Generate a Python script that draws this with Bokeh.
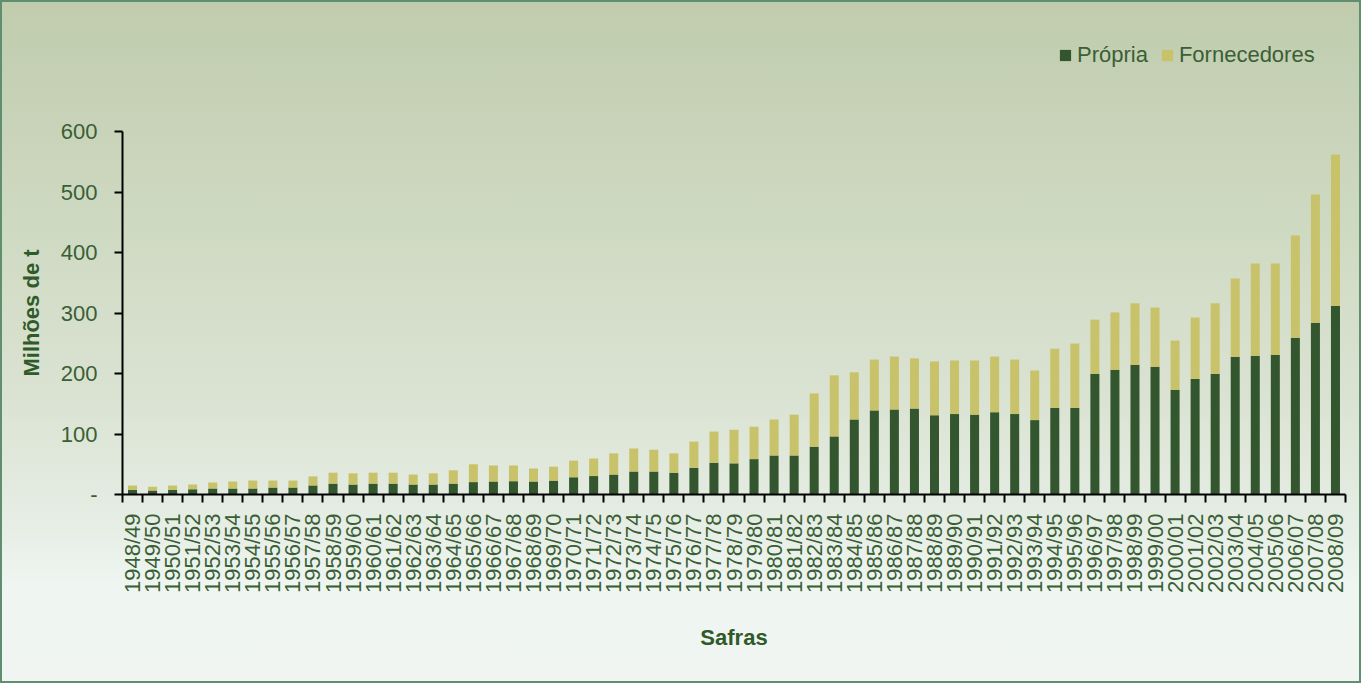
import numpy as np
from bokeh.plotting import figure
from bokeh.models import Range1d, FixedTicker, Legend, LegendItem, ColumnDataSource, Label
from bokeh.embed import file_html
from bokeh.resources import INLINE

categories = ["1948/49", "1949/50", "1950/51", "1951/52", "1952/53", "1953/54", "1954/55",
              "1955/56", "1956/57", "1957/58", "1958/59", "1959/60", "1960/61", "1961/62",
              "1962/63", "1963/64", "1964/65", "1965/66", "1966/67", "1967/68", "1968/69",
              "1969/70", "1970/71", "1971/72", "1972/73", "1973/74", "1974/75", "1975/76",
              "1976/77", "1977/78", "1978/79", "1979/80", "1980/81", "1981/82", "1982/83",
              "1983/84", "1984/85", "1985/86", "1986/87", "1987/88", "1988/89", "1989/90",
              "1990/91", "1991/92", "1992/93", "1993/94", "1994/95", "1995/96", "1996/97",
              "1997/98", "1998/99", "1999/00", "2000/01", "2001/02", "2002/03", "2003/04",
              "2004/05", "2005/06", "2006/07", "2007/08", "2008/09"]

propria = [8, 6.5, 8, 8.5, 10, 10, 10, 11.5, 11.5, 15,
           18, 16.5, 18, 18, 16.5, 16.5, 18, 20.5, 21.5, 22,
           21.5, 23, 28.5, 30.5, 33, 38, 38, 36, 44, 52.5,
           51.5, 58.5, 64.5, 64.5, 79, 96, 124, 139, 140.5, 142,
           131, 133, 132, 136, 133, 123, 143.5, 143.5, 199.5, 206,
           214.5, 211, 173, 191, 199.5, 227.5, 229.5, 231, 259, 284,
           311.5]

fornecedores = [7, 6.5, 7, 8, 10, 11.5, 13, 11.5, 11.5, 15,
                18, 18.5, 18, 18, 16.5, 18.5, 22, 29.5, 26.5, 26,
                21.5, 23, 27.5, 29, 35, 38, 36, 32, 43.5, 51.5,
                55.5, 53.5, 59.5, 67.5, 88, 101, 78, 84, 87.5, 83,
                89, 88.5, 89.5, 92, 90, 82, 97.5, 106, 89.5, 95,
                101.5, 98, 81.5, 101.5, 116.5, 129.5, 152.5, 151, 169, 212,
                250.5]

y_ticks = [0, 100, 200, 300, 400, 500, 600]
y_tick_labels = ["-", "100", "200", "300", "400", "500", "600"]

DARK = "#33562f"
YELLOW = "#c8c36a"
TEXT = "#3a5f35"
TITLE = "#2f5a2a"
FONT = "Liberation Sans"

# layout in figure pixels: the frame fills the figure, axes sit at fixed locations
W, H = 1361, 683
AX_LEFT, AX_RIGHT, AX_TOP, AX_BOTTOM = 122, 1345, 131, 494

n = len(categories)
xs = list(range(n))
sx = (AX_RIGHT - AX_LEFT) / n
sy = (AX_BOTTOM - AX_TOP) / 600
x_range = Range1d(-0.5 - AX_LEFT / sx, n - 0.5 + (W - AX_RIGHT) / sx)
y_range = Range1d(-(H - AX_BOTTOM) / sy, 600 + AX_TOP / sy)

src = ColumnDataSource(dict(x=xs, cat=categories, propria=propria, fornecedores=fornecedores))

p = figure(width=W, height=H, output_backend="svg", toolbar_location=None,
           x_range=x_range, y_range=y_range,
           min_border_left=0, min_border_right=0, min_border_top=0, min_border_bottom=0)

p.styles = {
    "background": "linear-gradient(to bottom, #c0ccad 0%, #cdd8c0 30%, #dae3d2 58%, #e5ece3 75%, #eff5f1 86%, #f0f5f2 100%)",
    "box-shadow": "inset 0 0 0 2px #5e8f6e",
}
p.border_fill_alpha = 0
p.background_fill_color = None
p.outline_line_color = None
p.grid.visible = False

rs = p.vbar_stack(["propria", "fornecedores"], x="x", width=0.45, source=src,
                  fill_color=[DARK, YELLOW], line_color=None)

# y axis
ya = p.yaxis[0]
ya.fixed_location = -0.5
ya.bounds = (0, 600)
ya.ticker = FixedTicker(ticks=y_ticks)
ya.major_label_overrides = {t: l for t, l in zip(y_ticks, y_tick_labels)}
ya.axis_line_color = "black"
ya.axis_line_width = 2
ya.major_tick_line_color = "black"
ya.major_tick_line_width = 2
ya.major_tick_out = 8
ya.major_tick_in = 0
ya.minor_tick_line_color = None
ya.major_label_text_font = FONT
ya.major_label_text_font_size = "22px"
ya.major_label_text_color = TEXT
ya.major_label_standoff = 17

# x axis
xa = p.xaxis[0]
xa.fixed_location = 0
xa.bounds = (-0.5, n - 0.5)
xa.ticker = FixedTicker(ticks=xs, minor_ticks=[i - 0.5 for i in range(n + 1)])
xa.major_label_overrides = {i: c for i, c in zip(xs, categories)}
xa.major_label_orientation = np.pi / 2
xa.axis_line_color = "black"
xa.axis_line_width = 2
xa.major_tick_line_color = None
xa.minor_tick_line_color = "black"
xa.minor_tick_line_width = 2
xa.minor_tick_out = 8
xa.minor_tick_in = 0
xa.major_label_text_font = FONT
xa.major_label_text_font_size = "22px"
xa.major_label_text_color = TEXT
xa.major_label_standoff = 11

# axis titles
p.add_layout(Label(x=31, y=300, x_units="screen", y_units="data", text="Milhões de t",
                   angle=np.pi / 2, text_align="center", text_baseline="middle",
                   text_font=FONT, text_font_size="22px", text_font_style="bold",
                   text_color=TITLE))
p.add_layout(Label(x=(n - 1) / 2, y=46, x_units="data", y_units="screen", text="Safras",
                   text_align="center", text_baseline="middle",
                   text_font=FONT, text_font_size="22px", text_font_style="bold",
                   text_color=TITLE))

legend = Legend(items=[LegendItem(label="Própria", renderers=[rs[0]]),
                       LegendItem(label="Fornecedores", renderers=[rs[1]])],
                orientation="horizontal", location=(1058, H - 68), margin=0, padding=0,
                spacing=12, glyph_width=14, glyph_height=14, label_standoff=5,
                label_text_font=FONT, label_text_font_size="22px", label_text_color=TEXT,
                border_line_color=None, background_fill_alpha=0)
p.add_layout(legend)

open("out.html", "w").write(file_html(p, INLINE))
